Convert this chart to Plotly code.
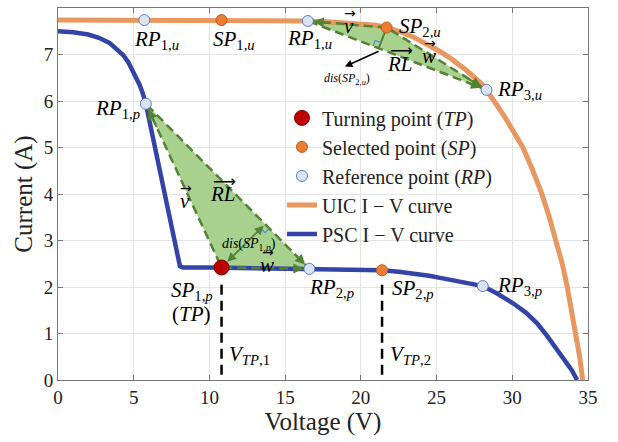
import plotly.graph_objects as go
import math

# ---------------- data ----------------
uic_v = [0, 5, 10, 15, 16.5, 18, 19, 20, 21, 21.7, 22.5, 23.5, 24.5, 25.2, 26, 27, 28, 28.3, 28.8, 29.5, 30, 30.7,
         31.3, 31.9, 32.4, 32.9, 33.3, 33.6, 33.9, 34.2, 34.45, 34.65]
uic_i = [7.74, 7.74, 7.74, 7.73, 7.72, 7.70, 7.68, 7.66, 7.63, 7.58, 7.50, 7.37, 7.20, 7.07, 6.90, 6.65, 6.36, 6.24, 6.0,
         5.66, 5.38, 5.0, 4.55, 4.05, 3.55, 3.0, 2.5, 2.05, 1.55, 1.0, 0.5, 0.0]

psc_v = [0, 1, 2, 2.7, 3.4, 3.9, 4.3, 4.65, 4.95, 5.2, 5.4, 5.6, 5.8, 8.05, 8.25, 10, 12, 14, 16, 18, 20, 21.4, 22.5,
         23.5, 24.5, 25.5, 26.5, 27.3, 28.05, 29, 30.05, 30.9, 31.64, 32.3, 32.96, 33.5, 33.95, 34.28]
psc_i = [7.50, 7.48, 7.43, 7.36, 7.25, 7.12, 6.99, 6.83, 6.64, 6.48, 6.34, 6.16, 5.94, 2.45, 2.42, 2.42, 2.41, 2.40, 2.39,
         2.38, 2.37, 2.36, 2.33, 2.29, 2.24, 2.18, 2.12, 2.07, 2.02, 1.86, 1.65, 1.45, 1.22, 0.95, 0.65, 0.42, 0.2, 0.0]

rp_u_v = [5.7, 16.5, 28.3]
rp_u_i = [7.74, 7.72, 6.24]
sp_u_v = [10.8, 21.7]
sp_u_i = [7.74, 7.58]
rp_p_v = [5.8, 16.6, 28.05]
rp_p_i = [5.94, 2.39, 2.02]
sp_p_v = [21.4]
sp_p_i = [2.36]
tp_v = [10.8]
tp_i = [2.42]
vtp_v = [10.8, 21.4]

x_ticks = [0, 5, 10, 15, 20, 25, 30, 35]
y_ticks = [0, 1, 2, 3, 4, 5, 6, 7, 8]

# ---------------- styles ----------------
FONT = "Liberation Serif"
LEG_FONT = "Liberation Serif"
ORANGE = "#e8975f"
BLUE = "#3343a6"
GFILL = "rgb(169,209,142)"
GLINE = "rgb(84,130,53)"
RP_FILL = "#dae3f3"
RP_LINE = "#5b7fc0"
SP_FILL = "#ed7d31"
SP_LINE = "#b85c20"
TP_FILL = "#c00000"
TP_LINE = "#7a0000"

L, R, T, B = 58, 30, 8, 62
W, H = 618, 442
SX = (W - L - R) / 35.0
SY = (H - T - B) / 8.0

fig = go.Figure()

# green triangles
tri_low = [(rp_p_v[0], rp_p_i[0]), (tp_v[0], tp_i[0]), (rp_p_v[1], rp_p_i[1])]
tri_up = [(rp_u_v[1], rp_u_i[1]), (sp_u_v[1], sp_u_i[1]), (rp_u_v[2], rp_u_i[2])]
for tri in (tri_low, tri_up):
    fig.add_trace(go.Scatter(x=[p[0] for p in tri] + [tri[0][0]], y=[p[1] for p in tri] + [tri[0][1]],
                             mode="lines", fill="toself", fillcolor=GFILL, line=dict(width=0),
                             showlegend=False, hoverinfo="skip"))

# curves
fig.add_trace(go.Scatter(x=uic_v, y=uic_i, mode="lines", line=dict(color=ORANGE, width=5),
                         name="UIC I − V curve", legendrank=4))
fig.add_trace(go.Scatter(x=psc_v, y=psc_i, mode="lines", line=dict(color=BLUE, width=4.5),
                         name="PSC I − V curve", legendrank=5))

# dashed triangle edges
for tri in (tri_low, tri_up):
    fig.add_trace(go.Scatter(x=[p[0] for p in tri] + [tri[0][0]], y=[p[1] for p in tri] + [tri[0][1]],
                             mode="lines", line=dict(color=GLINE, width=2.5, dash="9px,5px"),
                             showlegend=False, hoverinfo="skip"))

# vertical dashed lines at V_TP
for v in vtp_v:
    fig.add_trace(go.Scatter(x=[v, v], y=[2.05, 0.05], mode="lines",
                             line=dict(color="black", width=2.5, dash="10px,6px"), showlegend=False, hoverinfo="skip"))


def to_px(p):
    return (p[0] * SX, p[1] * SY)


def to_data(q):
    return (q[0] / SX, q[1] / SY)


def foot(p, a, b):
    P, A, Bp = to_px(p), to_px(a), to_px(b)
    dx, dy = Bp[0] - A[0], Bp[1] - A[1]
    t = ((P[0] - A[0]) * dx + (P[1] - A[1]) * dy) / (dx * dx + dy * dy)
    return to_data((A[0] + t * dx, A[1] + t * dy))


# perpendicular distance segments
f_low = foot(tri_low[1], tri_low[0], tri_low[2])
f_up = foot(tri_up[1], tri_up[0], tri_up[2])
fig.add_trace(go.Scatter(x=[tri_up[1][0], f_up[0]], y=[tri_up[1][1], f_up[1]], mode="lines",
                         line=dict(color=GLINE, width=2), showlegend=False, hoverinfo="skip"))


def right_angle(f, p, a, size=6):
    F, P, A = to_px(f), to_px(p), to_px(a)
    u = (P[0] - F[0], P[1] - F[1]); nu = math.hypot(*u); u = (u[0] / nu, u[1] / nu)
    w = (A[0] - F[0], A[1] - F[1]); nw = math.hypot(*w); w = (w[0] / nw, w[1] / nw)
    pts = [(F[0] + size * w[0], F[1] + size * w[1]),
           (F[0] + size * (w[0] + u[0]), F[1] + size * (w[1] + u[1])),
           (F[0] + size * u[0], F[1] + size * u[1])]
    d = [to_data(q) for q in pts]
    fig.add_trace(go.Scatter(x=[q[0] for q in d], y=[q[1] for q in d], mode="lines",
                             line=dict(color="#4a90d9", width=1.2), showlegend=False, hoverinfo="skip"))


right_angle(f_low, tri_low[1], tri_low[2])
right_angle(f_up, tri_up[1], tri_up[0])

# markers
fig.add_trace(go.Scatter(x=rp_u_v + rp_p_v, y=rp_u_i + rp_p_i, mode="markers",
                         marker=dict(size=11, color=RP_FILL, line=dict(color=RP_LINE, width=1)),
                         name="Reference point (<i>RP</i>)", legendrank=3))
fig.add_trace(go.Scatter(x=sp_u_v + sp_p_v, y=sp_u_i + sp_p_i, mode="markers",
                         marker=dict(size=11, color=SP_FILL, line=dict(color=SP_LINE, width=1)),
                         name="Selected point (<i>SP</i>)", legendrank=2))
fig.add_trace(go.Scatter(x=tp_v, y=tp_i, mode="markers",
                         marker=dict(size=15, color=TP_FILL, line=dict(color=TP_LINE, width=1)),
                         name="Turning point (<i>TP</i>)", legendrank=1))

anns = []


def arrow_head(tail, head, color=GLINE, frac=0.12, standoff=6, width=2, size=1.0, head_style=2):
    tx = head[0] + (tail[0] - head[0]) * frac
    ty = head[1] + (tail[1] - head[1]) * frac
    anns.append(dict(x=head[0], y=head[1], ax=tx, ay=ty, xref="x", yref="y", axref="x", ayref="y",
                     showarrow=True, arrowhead=head_style, arrowsize=size, arrowwidth=width,
                     arrowcolor=color, standoff=standoff, text=""))


# lower triangle arrows
arrow_head(tri_low[1], tri_low[0], frac=0.15)
arrow_head(tri_low[1], tri_low[2], frac=0.2)
arrow_head(tri_low[0], tri_low[2], frac=0.1)
# upper triangle arrows
arrow_head(tri_up[1], tri_up[0], frac=0.3)
arrow_head(tri_up[1], tri_up[2], frac=0.2)
arrow_head(tri_up[0], tri_up[2], frac=0.12)

# lower dis double arrow
anns.append(dict(x=tri_low[1][0], y=tri_low[1][1], ax=f_low[0], ay=f_low[1], xref="x", yref="y",
                 axref="x", ayref="y", showarrow=True, arrowhead=2, startarrowhead=2, arrowside="end+start",
                 arrowsize=1, arrowwidth=1.8, arrowcolor=GLINE, standoff=8, startstandoff=0, text=""))
# upper dis black pointer
anns.append(dict(x=18.95, y=6.74, ax=f_up[0] + 0.1, ay=f_up[1] - 0.05, xref="x", yref="y",
                 axref="x", ayref="y", showarrow=True, arrowhead=2, arrowsize=1, arrowwidth=1.5,
                 arrowcolor="black", text=""))

LBL = 21


def label(x, y, text, size=LBL, xs=0, ys=0):
    anns.append(dict(x=x, y=y, text=text, showarrow=False, xshift=xs, yshift=ys,
                     font=dict(family=FONT, size=size, color="black")))


def vec(x, y, text, arrow="→", xs=0, ys=0, aw=14):
    label(x, y, text, xs=xs, ys=ys)
    anns.append(dict(x=x, y=y, text=arrow, showarrow=False, xshift=xs + 1, yshift=ys + 13,
                     font=dict(family="DejaVu Sans", size=aw, color="black")))


# point labels
label(rp_u_v[0], rp_u_i[0], "<i>RP</i><sub>1,<i>u</i></sub>", xs=12, ys=-20)
label(sp_u_v[0], sp_u_i[0], "<i>SP</i><sub>1,<i>u</i></sub>", xs=12, ys=-20)
label(rp_u_v[1], rp_u_i[1], "<i>RP</i><sub>1,<i>u</i></sub>", xs=2, ys=-18)
label(sp_u_v[1], sp_u_i[1], "<i>SP</i><sub>2,<i>u</i></sub>", xs=33, ys=1)
label(rp_u_v[2], rp_u_i[2], "<i>RP</i><sub>3,<i>u</i></sub>", xs=33, ys=0)
label(rp_p_v[0], rp_p_i[0], "<i>RP</i><sub>1,<i>p</i></sub>", xs=-28, ys=-5)
label(tp_v[0], tp_i[0], "<i>SP</i><sub>1,<i>p</i></sub>", xs=-30, ys=-24)
label(tp_v[0], tp_i[0], "(<i>TP</i>)", xs=-30, ys=-47)
label(rp_p_v[1], rp_p_i[1], "<i>RP</i><sub>2,<i>p</i></sub>", xs=22, ys=-19)
label(sp_p_v[0], sp_p_i[0], "<i>SP</i><sub>2,<i>p</i></sub>", xs=31, ys=-19)
label(rp_p_v[2], rp_p_i[2], "<i>RP</i><sub>3,<i>p</i></sub>", xs=37, ys=0)
label(vtp_v[0], 0, "<i>V</i><sub><i>TP</i>,1</sub>", xs=28, ys=25)
label(vtp_v[1], 0, "<i>V</i><sub><i>TP</i>,2</sub>", xs=28, ys=25)

# vector labels
vec(19.2, 7.62, "<i>v</i>")
vec(24.5, 6.97, "<i>w</i>")
vec(22.6, 6.80, "<i>RL</i>", arrow="⟶", aw=16)
vec(8.4, 3.85, "<i>v</i>")
vec(10.9, 4.0, "<i>RL</i>", arrow="⟶", aw=16)
vec(13.8, 2.47, "<i>w</i>")
label(12.6, 2.92, "<i>dis</i>(<i>SP</i><sub>1,<i>p</i></sub>)", size=14)
label(19.1, 6.47, "<i>dis</i>(<i>SP</i><sub>2,<i>u</i></sub>)", size=12)

axis_common = dict(showgrid=True, gridcolor="#e3e3e3", gridwidth=1, zeroline=False,
                   showline=True, linecolor="#777777", linewidth=1, mirror="allticks",
                   ticks="inside", ticklen=5, tickcolor="#777777",
                   tickfont=dict(family=FONT, size=19, color="#222222"))

fig.update_layout(
    width=W, height=H, margin=dict(l=L, r=R, t=T, b=B),
    plot_bgcolor="white", paper_bgcolor="white",
    font=dict(family=FONT, color="#222222"),
    xaxis=dict(range=[0, 35], tickvals=x_ticks, title=dict(text="Voltage (V)", font=dict(family=FONT, size=25), standoff=3),
               **axis_common),
    yaxis=dict(range=[0, 8], tickvals=y_ticks, title=dict(text="Current (A)", font=dict(family=FONT, size=25), standoff=3),
               **axis_common),
    legend=dict(x=0.4226, y=0.757, xanchor="left", yanchor="top", bgcolor="rgba(255,255,255,0)",
                font=dict(family=LEG_FONT, size=20, color="#222222"), itemwidth=30, tracegroupgap=0),
    annotations=anns,
)

fig.write_html("out.html")
